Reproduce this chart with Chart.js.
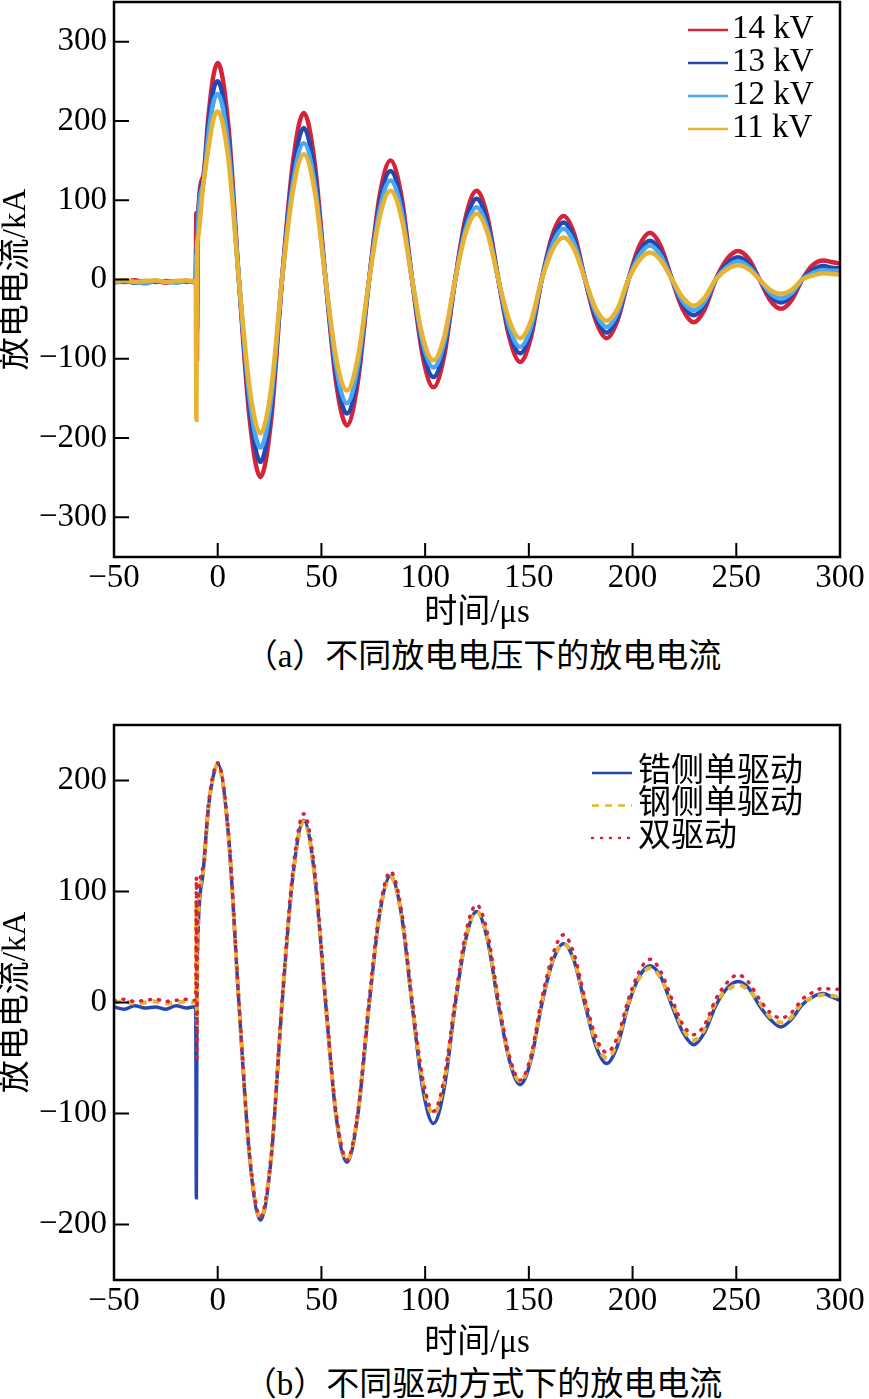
<!DOCTYPE html>
<html>
<head>
<meta charset="utf-8">
<script src="https://cdn.jsdelivr.net/npm/chart.js@4.4.1/dist/chart.umd.min.js"></script>
<style>
  html, body { margin: 0; padding: 0; background: #fff; }
  body { width: 869px; height: 1399px; position: relative; overflow: hidden; }
  .box { position: absolute; left: 0; width: 869px; }
  .cap { position: absolute; transform: translateX(-50%); white-space: nowrap;
         font: 33px 'Liberation Serif', 'Noto Sans CJK SC', serif; line-height: 40px; color: #000; }
</style>
</head>
<body>
<div class="box" style="top:0;height:630px"><canvas id="chartA"></canvas></div>
<div class="cap" style="left:483px;top:636px">（a）不同放电电压下的放电电流</div>
<div class="box" style="top:700px;height:660px"><canvas id="chartB"></canvas></div>
<div class="cap" style="left:483px;top:1364px">（b）不同驱动方式下的放电电流</div>

<script>
// ===== data =====
// time axis, µs (shared by every curve)
const timeUs = [
  -50, -45, -40, -35, -30, -25, -20, -15, -12, -10.6, -10.3, -10, -9.7, -7, -4.5, -2,
  0, 5.2, 10.2, 15.4,   20.6, 25.8, 31, 36.3,     41.5, 46.7, 52, 57.1,    62.3, 67.5, 73, 78.1,
  83.3, 88.5, 93.7, 98.8, 104, 109.2, 114.5, 119.6, 124.8, 130, 135.3, 140.6, 145.8, 151, 156.2, 161.5,
  166.7, 171.9, 177.1, 182.3, 187.5, 192.7, 198, 203.2, 208.4, 213.6, 219, 224.3, 229.5, 234.7, 240.1, 245.6,
  250.8, 256, 261.2, 266.3, 271.5, 276.7, 281.8, 286.8, 292, 296, 300
];

// (a) 不同放电电压 kA
const labelsA = ['14 kV', '13 kV', '12 kV', '11 kV'];
const current14kV = [
  -2, -3, -1, -3, -2, -4, -2, -3, -2, -2, 84, -100, 60, 130, 205, 258,
  273, 192, 0, -176,   -249, -176, 0, 148,   210, 148, 0, -130,   -184, -130, 0, 106,
  150, 106, 0, -96,    -136, -96, 0, 79,     112, 79, 0, -73,     -104, -73, 0, 57,
  80, 57, 0, -52,      -74, -52, 0, 42,      59, 42, 0, -38,      -54, -38, 0, 26,
  36, 26, 0, -26,      -37, -26, 0, 18,      24, 22, 20
];
const current13kV = [
  -3, -2, -4, -2, -3, -2, -3, -2, -3, -3, 40, -60, 55, 125, 196, 240,
  250, 176, 0, -162,   -230, -162, 0, 135,   191, 135, 0, -120,   -169, -120, 0, 97,
  137, 97, 0, -87,     -123, -87, 0, 72,     102, 72, 0, -66,     -93, -66, 0, 51,
  72, 51, 0, -47,      -67, -47, 0, 35,      49, 35, 0, -32,      -45, -32, 0, 20,
  28, 20, 0, -20,      -29, -20, 0, 12,      17, 15, 14
];
const current12kV = [
  -4, -2, -3, -5, -2, -3, -4, -2, -3, -3, 30, -40, 50, 120, 182, 224,
  234, 165, 0, -150,   -212, -150, 0, 122,   172, 122, 0, -110,   -156, -110, 0, 88,
  125, 88, 0, -79,     -111, -79, 0, 64,     91, 64, 0, -60,      -85, -60, 0, 45,
  64, 45, 0, -42,      -60, -42, 0, 30,      43, 30, 0, -28,      -39, -28, 0, 16,
  23, 16, 0, -17,      -24, -17, 0, 8,       12, 11, 11
];
const current11kV = [
  -2, -1, -3, -2, -1, -3, -2, -1, -2, -2, -177, 40, 50, 118, 165, 203,
  212, 150, 0, -137,   -194, -137, 0, 112,   158, 112, 0, -99,    -140, -99, 0, 79,
  112, 79, 0, -72,     -102, -72, 0, 59,     83, 59, 0, -52,      -74, -52, 0, 38,
  53, 38, 0, -37,      -52, -37, 0, 24,      34, 24, 0, -23,      -33, -23, 0, 13,
  18, 13, 0, -13,      -18, -13, 0, 5,       8, 7, 6
];

// (b) 不同驱动方式 kA
const labelsB = ['锆侧单驱动', '钢侧单驱动', '双驱动'];
const currentZrSide = [
  -4, -6, -3, -5, -4, -6, -3, -5, -4, -4, -176, 10, 50, 118, 175, 205,
  215, 150, 0, -140,   -196, -140, -2, 115,  164, 115, 0, -103,   -144, -102, -2, 80,
  114, 80, -2, -77,    -109, -77, -2, 57,    82, 57, -2, -52,     -74, -52, -2, 37,
  53, 37, -2, -39,     -55, -39, -2, 23,     33, 23, -3, -27,     -38, -27, -3, 13,
  19, 13, -3, -15,     -22, -15, -2, 5,      8, 5, 2
];
const currentSteelSide = [
  0, 1, -1, 0, 1, -1, 0, 1, 0, 0, 90, -20, 55, 118, 175, 205,
  214, 150, 0, -138,   -194, -138, 0, 115,   163, 115, 0, -101,   -142, -101, 0, 80,
  113, 80, 0, -71,     -101, -71, 0, 58,     82, 58, 0, -50,      -71, -50, 0, 38,
  53, 38, 0, -36,      -50, -36, 0, 22,      31, 22, 0, -24,      -34, -24, 0, 11,
  16, 11, 0, -13,      -18, -13, 0, 4,       7, 6, 5
];
const currentDual = [
  2, 3, 1, 2, 3, 1, 2, 3, 2, 2, 113, -50, 70, 122, 178, 207,
  216, 153, 2, -137,   -193, -137, 2, 120,   170, 120, 3, -99,    -142, -99, 3, 84,
  118, 84, 3, -68,     -98, -68, 3, 63,      88, 63, 3, -48,      -70, -48, 3, 43,
  61, 43, 3, -31,      -45, -31, 3, 28,      39, 28, 3, -20,      -29, -20, 3, 18,
  25, 18, 3, -9,       -14, -9, 3, 9,        13, 12, 12
];

const xTicks = [-50, 0, 50, 100, 150, 200, 250, 300];
const yTicksA = [-300, -200, -100, 0, 100, 200, 300];
const yTicksB = [-200, -100, 0, 100, 200];

// ===== common style =====
const SERIF = "'Liberation Serif', 'Noto Sans CJK SC', serif";
Chart.defaults.font.family = SERIF;
Chart.defaults.font.size = 33;
Chart.defaults.color = '#000';

const toXY = vals => timeUs.map((t, i) => ({ x: t, y: vals[i] }));
const minus = v => (v < 0 ? '\u2212' + Math.abs(v) : String(v));

// 枠線・内向き目盛・凡例（プロット内）
const paperPlugin = {
  id: 'paper',
  afterDatasetsDraw(chart, args, opts) {
    const { ctx, chartArea: a, scales: { x, y } } = chart;
    ctx.save();
    ctx.strokeStyle = '#000';
    ctx.lineWidth = 2.5;
    ctx.strokeRect(a.left, a.top, a.right - a.left, a.bottom - a.top);

    ctx.lineWidth = 2;
    ctx.beginPath();
    x.ticks.forEach(t => {
      const px = x.getPixelForValue(t.value);
      ctx.moveTo(px, a.bottom); ctx.lineTo(px, a.bottom - 14);
    });
    y.ticks.forEach(t => {
      const py = y.getPixelForValue(t.value);
      ctx.moveTo(a.left, py); ctx.lineTo(a.left + 15, py);
    });
    ctx.stroke();

    // legend
    chart.data.datasets.forEach((ds, i) => {
      const ly = opts.y + i * opts.gap;
      ctx.strokeStyle = ds.borderColor;
      ctx.lineWidth = 2.5;
      ctx.lineCap = ds.borderCapStyle || 'butt';
      ctx.setLineDash(ds.borderDash || []);
      ctx.beginPath();
      ctx.moveTo(opts.x, ly); ctx.lineTo(opts.x + 40, ly);
      ctx.stroke();
      ctx.setLineDash([]);
      ctx.fillStyle = '#000';
      ctx.font = '33px ' + SERIF;
      ctx.textBaseline = 'middle';
      ctx.fillText(ds.label, opts.x + opts.textGap, ly - 1);
    });
    ctx.restore();
  }
};

function makeChart(canvasId, datasets, yTicks, yLim, padTop, xAxisH, legend) {
  return new Chart(document.getElementById(canvasId), {
    type: 'line',
    data: { datasets },
    plugins: [paperPlugin],
    options: {
      responsive: true,
      maintainAspectRatio: false,
      animation: false,
      layout: { padding: { top: padTop, right: 29, left: 0, bottom: 0 } },
      elements: { point: { radius: 0 }, line: { cubicInterpolationMode: 'monotone' } },
      plugins: { legend: { display: false }, tooltip: { enabled: false }, paper: legend },
      scales: {
        x: {
          type: 'linear', min: -50, max: 300,
          grid: { display: false, drawTicks: false }, border: { display: false },
          afterBuildTicks: s => { s.ticks = xTicks.map(v => ({ value: v })); },
          afterFit: s => { s.height = xAxisH; },
          ticks: { padding: 2, maxRotation: 0, autoSkip: false, callback: minus },
          title: { display: true, text: '时间/μs', padding: 0, font: { size: 33, lineHeight: 1.0 } }
        },
        y: {
          min: -yLim, max: yLim,
          grid: { display: false, drawTicks: false }, border: { display: false },
          afterBuildTicks: s => { s.ticks = yTicks.map(v => ({ value: v })); },
          afterFit: s => { s.width = 114; s.paddingTop = 0; s.paddingBottom = 0; },
          ticks: { padding: 7, autoSkip: false, callback: minus },
          title: { display: true, text: '放电电流/kA', padding: 0, font: { size: 33, lineHeight: 1.0 } }
        }
      }
    }
  });
}

// (a)
makeChart('chartA', [
  { label: labelsA[0], data: toXY(current14kV), borderColor: '#d4243a', borderWidth: 4.5, order: 4 },
  { label: labelsA[1], data: toXY(current13kV), borderColor: '#2747b0', borderWidth: 4.5, order: 3 },
  { label: labelsA[2], data: toXY(current12kV), borderColor: '#4aa8f2', borderWidth: 4.5, order: 2 },
  { label: labelsA[3], data: toXY(current11kV), borderColor: '#e8b232', borderWidth: 4.5, order: 1 }
], yTicksA, 350, 2, 73, { x: 688, y: 30, gap: 33, textGap: 44 });

// (b)
makeChart('chartB', [
  { label: labelsB[0], data: toXY(currentZrSide), borderColor: '#2747b0', borderWidth: 3.5, order: 3 },
  { label: labelsB[1], data: toXY(currentSteelSide), borderColor: '#e8b232', borderWidth: 4,
    borderDash: [7, 6], order: 2 },
  { label: labelsB[2], data: toXY(currentDual), borderColor: '#d4243a', borderWidth: 3.5,
    borderDash: [1, 8], borderCapStyle: 'round', order: 1 }
], yTicksB, 250, 25, 80, { x: 592, y: 73, gap: 32.5, textGap: 46 });
</script>
</body>
</html>
